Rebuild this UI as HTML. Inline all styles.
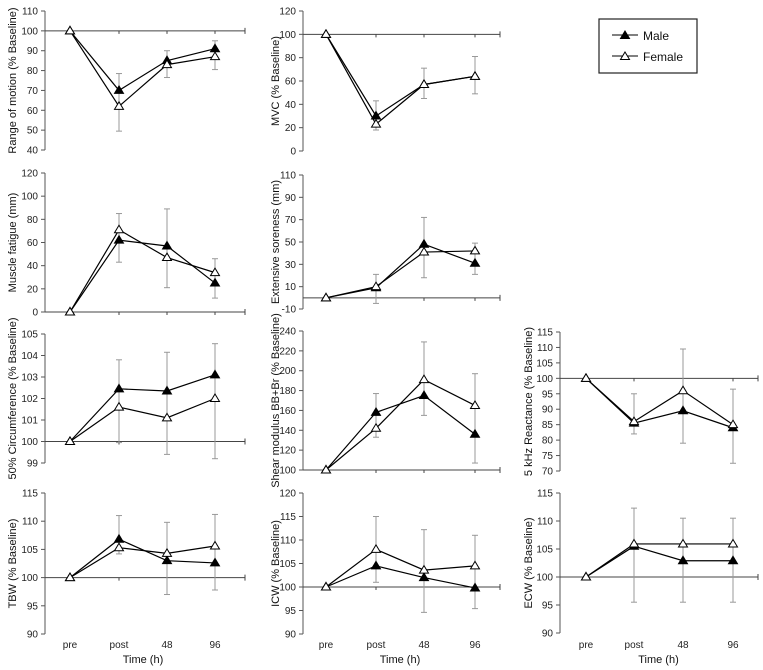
<!DOCTYPE html>
<html><head><meta charset="utf-8">
<style>
body{margin:0;background:#fff;}
svg{display:block;font-family:"Liberation Sans",Arial,sans-serif;}
</style></head>
<body>
<svg id="chart" width="763" height="670" viewBox="0 0 763 670" xmlns="http://www.w3.org/2000/svg">
  <g>
    <rect x="599" y="19" width="98" height="54" fill="#fff" stroke="#222" stroke-width="1.2"/>
    <line x1="612" y1="35" x2="638" y2="35" stroke="#000"/>
    <polygon points="625,31 629.5,38.5 620.5,38.5" fill="#000" stroke="#000"/>
    <text x="643" y="40" font-size="12" fill="#111">Male</text>
    <line x1="612" y1="56" x2="638" y2="56" stroke="#000"/>
    <polygon points="625,52 629.5,59.5 620.5,59.5" fill="#fff" stroke="#000"/>
    <text x="643" y="61" font-size="12" fill="#111">Female</text>
  </g>
</svg>
<script>
const timeLabels = ["pre","post","48","96"];

const romMale = [100,70,85,91];
const romFemale = [100,62,83,87];
const romLo = [null,49.5,76.5,80.5];
const romHi = [null,78.5,90,95];
const romTicks = [40,50,60,70,80,90,100,110];

const mvcMale = [100,30,57,64];
const mvcFemale = [100,23,57,64];
const mvcLo = [null,18,45,49];
const mvcHi = [null,43,71,81];
const mvcTicks = [0,20,40,60,80,100,120];

const fatMale = [0,62,57,25];
const fatFemale = [0,71,47,34];
const fatLo = [null,43,21,12];
const fatHi = [null,85,89,46];
const fatTicks = [0,20,40,60,80,100,120];

const sorMale = [0,9,48,31];
const sorFemale = [0,10,41,42];
const sorLo = [null,-5,18,21];
const sorHi = [null,21,72,49];
const sorTicks = [-10,10,30,50,70,90,110];

const cirMale = [100,102.45,102.35,103.1];
const cirFemale = [100,101.6,101.1,102.0];
const cirLo = [null,99.95,99.4,99.2];
const cirHi = [null,103.8,104.15,104.55];
const cirTicks = [99,100,101,102,103,104,105];

const shrMale = [100,158,175,136];
const shrFemale = [100,142,191,165];
const shrLo = [null,133,155,107];
const shrHi = [null,177,229,197];
const shrTicks = [100,120,140,160,180,200,220,240];

const reaMale = [100,85.5,89.5,84];
const reaFemale = [100,86,96,85];
const reaLo = [null,82,79,72.5];
const reaHi = [null,95,109.5,96.5];
const reaTicks = [70,75,80,85,90,95,100,105,110,115];

const tbwMale = [100,106.8,103,102.6];
const tbwFemale = [100,105.3,104.3,105.6];
const tbwLo = [null,104.2,97,97.8];
const tbwHi = [null,111,109.8,111.2];
const tbwTicks = [90,95,100,105,110,115];

const icwMale = [100,104.5,102,99.8];
const icwFemale = [100,108,103.6,104.5];
const icwLo = [null,101,94.6,95.4];
const icwHi = [null,115,112.2,111];
const icwTicks = [90,95,100,105,110,115,120];

const ecwMale = [100,105.5,102.9,102.9];
const ecwFemale = [100,105.9,105.9,105.9];
const ecwLo = [null,95.5,95.5,95.5];
const ecwHi = [null,112.3,110.5,110.5];
const ecwTicks = [90,95,100,105,110,115];

const cols = [
  {ax:45, xs:[70,119,167,215], end:245, title:12},
  {ax:303, xs:[326,376,424,475], end:500, title:275},
  {ax:560, xs:[586,634,683,733], end:758, title:528}
];

const panels = [
  {name:"range-of-motion", col:0, top:11, bot:150, title:"Range of motion (% Baseline)", ticks:romTicks, base:100, m:romMale, f:romFemale, lo:romLo, hi:romHi, xl:false},
  {name:"mvc", col:1, top:11, bot:151, title:"MVC (% Baseline)", ticks:mvcTicks, base:100, m:mvcMale, f:mvcFemale, lo:mvcLo, hi:mvcHi, xl:false},
  {name:"muscle-fatigue", col:0, top:173, bot:312, title:"Muscle fatigue (mm)", ticks:fatTicks, base:0, m:fatMale, f:fatFemale, lo:fatLo, hi:fatHi, xl:false},
  {name:"extensive-soreness", col:1, top:175, bot:309, title:"Extensive soreness (mm)", ticks:sorTicks, base:0, m:sorMale, f:sorFemale, lo:sorLo, hi:sorHi, xl:false},
  {name:"circumference", col:0, top:334, bot:463, title:"50% Circumference (% Baseline)", ticks:cirTicks, base:100, m:cirMale, f:cirFemale, lo:cirLo, hi:cirHi, xl:false},
  {name:"shear-modulus", col:1, top:331, bot:470, title:"Shear modulus BB+Br (% Baseline)", ticks:shrTicks, base:100, m:shrMale, f:shrFemale, lo:shrLo, hi:shrHi, xl:false},
  {name:"reactance", col:2, top:332, bot:471, title:"5 kHz Reactance (% Baseline)", ticks:reaTicks, base:100, m:reaMale, f:reaFemale, lo:reaLo, hi:reaHi, xl:false},
  {name:"tbw", col:0, top:493, bot:634, title:"TBW (% Baseline)", ticks:tbwTicks, base:100, m:tbwMale, f:tbwFemale, lo:tbwLo, hi:tbwHi, xl:true},
  {name:"icw", col:1, top:493, bot:634, title:"ICW (% Baseline)", ticks:icwTicks, base:100, m:icwMale, f:icwFemale, lo:icwLo, hi:icwHi, xl:true},
  {name:"ecw", col:2, top:493, bot:633, title:"ECW (% Baseline)", ticks:ecwTicks, base:100, m:ecwMale, f:ecwFemale, lo:ecwLo, hi:ecwHi, xl:true}
];

const NS = "http://www.w3.org/2000/svg";
const svg = document.getElementById("chart");
function mk(tag, attrs, parent){
  const e = document.createElementNS(NS, tag);
  for (const k in attrs) e.setAttribute(k, attrs[k]);
  parent.appendChild(e);
  return e;
}
function tri(g, x, y, filled){
  return mk("polygon", {points:`${x},${y-4.5} ${x+4.5},${y+3} ${x-4.5},${y+3}`, fill: filled?"#000":"#fff", stroke:"#000","stroke-width":1}, g);
}

panels.forEach(p=>{
  const c = cols[p.col];
  const tMin = p.ticks[0], tMax = p.ticks[p.ticks.length-1];
  const y = v => p.bot - (v - tMin)/(tMax - tMin)*(p.bot - p.top);
  const x = i => c.xs[i];
  const g = mk("g", {}, svg);
  
  
  const ya = mk("line", {x1:c.ax, y1:p.top, x2:c.ax, y2:p.bot, stroke:"#555","stroke-width":1}, g);
  
  
  p.ticks.forEach(t=>{
    mk("line", {x1:c.ax-4, y1:y(t), x2:c.ax, y2:y(t), stroke:"#555"}, g);
    const tx = mk("text", {x:c.ax-7, y:y(t)+3.5, "font-size":10, "text-anchor":"end", fill:"#222"}, g);
    tx.textContent = t;
    
    
  });
  const by = y(p.base);
  const bl = mk("line", {x1:c.ax, y1:by, x2:c.end, y2:by, stroke:"#444","stroke-width":1}, g);
  
  
  for (let i=1;i<4;i++) mk("line",{x1:x(i),y1:by,x2:x(i),y2:by+3,stroke:"#444"},g);
  mk("line",{x1:c.end,y1:by-3,x2:c.end,y2:by+3,stroke:"#444"},g);
  const cy = (p.top+p.bot)/2;
  const tt = mk("text", {x:c.title, y:cy, "font-size":11, "text-anchor":"middle", fill:"#111", transform:`rotate(-90 ${c.title} ${cy})`, dy:"4"}, g);
  tt.textContent = p.title;
  
  
  for (let i=0;i<4;i++){
    if (p.lo[i]==null) continue;
    const eb = mk("line", {x1:x(i), y1:y(p.lo[i]), x2:x(i), y2:y(p.hi[i]), stroke:"#999","stroke-width":1}, g);
    
    
    mk("line",{x1:x(i)-3,y1:y(p.lo[i]),x2:x(i)+3,y2:y(p.lo[i]),stroke:"#999"},g);
    mk("line",{x1:x(i)-3,y1:y(p.hi[i]),x2:x(i)+3,y2:y(p.hi[i]),stroke:"#999"},g);
  }
  [[p.m,"male"],[p.f,"female"]].forEach(([vals,nm])=>{
    const pl = mk("polyline", {points: vals.map((v,i)=>`${x(i)},${y(v)}`).join(" "), fill:"none", stroke:"#000","stroke-width":1.2}, g);
    
    
  });
  [[p.m,true,"male"],[p.f,false,"female"]].forEach(([vals,filled,nm])=>{
    vals.forEach((v,i)=>{
      const t = tri(g, x(i), y(v), filled);
      
      
    });
  });
  if (p.xl){
    timeLabels.forEach((l,i)=>{
      const tx = mk("text",{x:x(i), y:648, "font-size":10, "text-anchor":"middle", fill:"#222"}, g);
      tx.textContent = l;
      
      
    });
    const xt = mk("text",{x:(c.xs[1]+c.xs[2])/2, y:663, "font-size":11, "text-anchor":"middle", fill:"#111"}, g);
    xt.textContent = "Time (h)";
    
    
  }
});
</script>
</body></html>
